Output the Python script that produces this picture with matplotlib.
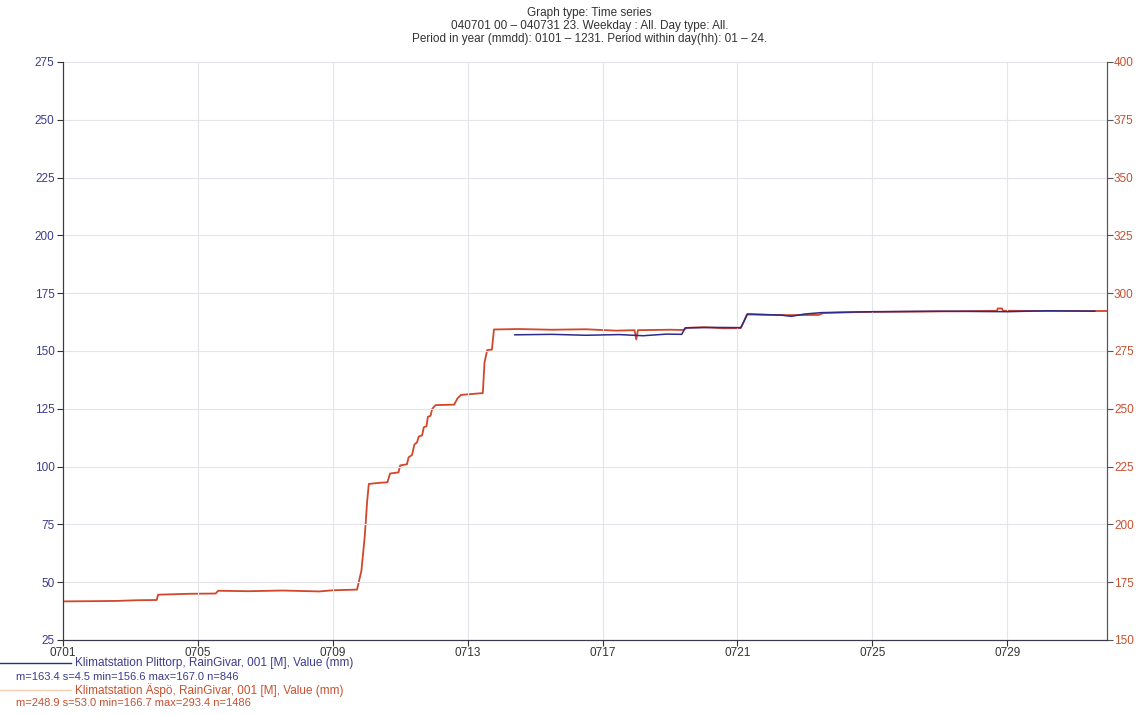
import matplotlib.pyplot as plt
from matplotlib.lines import Line2D

plt.rcParams['font.family'] = ['Liberation Sans', 'DejaVu Sans']

# time in days since 0701 00, values in mm
aspo_t = [0.0, 0.9, 1.6, 2.2, 2.78, 2.82, 3.8, 4.53, 4.6, 5.5, 6.5, 7.6, 8.0,
          8.72, 8.85, 8.95, 9.02, 9.07, 9.4, 9.62, 9.70, 9.95, 10.0, 10.2, 10.25,
          10.35, 10.42, 10.5, 10.55, 10.65, 10.7, 10.78, 10.82, 10.9, 10.95,
          11.05, 11.6, 11.7, 11.8, 12.45, 12.5, 12.58, 12.72, 12.78, 13.5, 14.5,
          15.5, 16.4, 16.95, 17.0, 17.05, 18.0, 18.4, 18.5, 19.0, 19.6, 20.1,
          20.2, 20.28, 21.5, 22.4, 22.55, 23.5, 25.0, 26.5, 27.7, 27.72, 27.85,
          27.87, 29.0, 30.96]
aspo_v = [166.7, 166.8, 166.9, 167.2, 167.3, 169.6, 170.0, 170.1, 171.3, 171.1,
          171.4, 171.0, 171.5, 171.8, 180.0, 195.0, 210.0, 217.5, 218.0, 218.2,
          222.0, 222.5, 225.5, 226.0, 229.0, 230.0, 234.5, 235.5, 238.0, 238.5,
          242.0, 242.5, 246.5, 247.0, 250.0, 251.6, 251.8, 254.5, 256.0, 256.8,
          270.0, 275.4, 275.6, 284.3, 284.5, 284.2, 284.4, 283.8, 284.0, 280.0,
          284.0, 284.2, 284.1, 285.0, 285.3, 284.8, 284.9, 288.0, 290.8, 290.5,
          290.6, 291.4, 291.8, 292.0, 292.2, 292.4, 293.4, 293.4, 292.4, 292.3,
          292.3]

plittorp_t = [13.4, 14.5, 15.5, 16.5, 17.2, 17.9, 18.35, 18.45, 19.3, 20.1, 20.2,
              20.3, 21.3, 21.6, 22.0, 22.5, 24.0, 26.0, 28.0, 29.2, 30.6]
plittorp_v = [157.0, 157.2, 156.8, 157.1, 156.6, 157.3, 157.2, 160.0, 160.2,
              160.1, 163.0, 166.0, 165.5, 165.0, 166.0, 166.6, 167.0, 167.2,
              167.0, 167.4, 167.2]

day_ticks = [0, 4, 8, 12, 16, 20, 24, 28]
day_labels = ['0701', '0705', '0709', '0713', '0717', '0721', '0725', '0729']
left_ticks = [25, 50, 75, 100, 125, 150, 175, 200, 225, 250, 275]
right_ticks = [150, 175, 200, 225, 250, 275, 300, 325, 350, 375, 400]

navy = '#2b2b8c'
orange = '#d2462a'
label_navy = '#3c3c8c'
label_orange = '#c8502e'

fig = plt.figure(figsize=(11.43, 7.15), dpi=100)
ax = fig.add_axes([0.0551, 0.1049, 0.9134, 0.8084])
ax2 = ax.twinx()

ax2.plot(aspo_t, aspo_v, color=orange, lw=1.3, zorder=2)
ax.plot(plittorp_t, plittorp_v, color=navy, lw=1.1, zorder=3)
ax.set_zorder(ax2.get_zorder() + 1)
ax.patch.set_visible(False)

ax.set_xlim(0, 30.96)
ax.set_ylim(25, 275)
ax2.set_ylim(150, 400)
ax.set_xticks(day_ticks)
ax.set_xticklabels(day_labels)
ax.set_yticks(left_ticks)
ax2.set_yticks(right_ticks)

ax2.grid(False)
ax.grid(True, color='#e4e4ea', lw=0.8)
ax.set_axisbelow(True)
for a in (ax, ax2):
    a.spines['top'].set_visible(False)
    a.spines['left'].set_color('#3a3a4a')
    a.spines['bottom'].set_color('#3a3a4a')
    a.spines['right'].set_color('#555555')
ax.tick_params(axis='x', length=4, color='#333333', labelsize=8.5,
               labelcolor='#333333', pad=1)
ax.tick_params(axis='y', length=4, color='#333333', labelsize=8.5,
               labelcolor=label_navy, pad=2)
ax2.tick_params(axis='y', length=4, color='#555555', labelsize=8.5,
                labelcolor=label_orange, pad=1)

title_lines = ['Graph type: Time series',
               '040701 00 \u2013 040731 23. Weekday : All. Day type: All.',
               'Period in year (mmdd): 0101 \u2013 1231. Period within day(hh): 01 \u2013 24.']
for i, line in enumerate(title_lines):
    fig.text(0.516, 1 - (13 + 12.8 * i) / 715, line, ha='center', va='center',
             fontsize=8.5, color='#333333')

# legend below the axes
fig.add_artist(Line2D([0.0, 0.062], [1 - 663 / 715] * 2, color=navy, lw=1.0))
fig.text(0.066, 1 - 663 / 715,
         'Klimatstation Plittorp, RainGivar, 001 [M], Value (mm)',
         ha='left', va='center', fontsize=8.5, color=label_navy)
fig.text(0.014, 1 - 677 / 715, 'm=163.4 s=4.5 min=156.6 max=167.0 n=846',
         ha='left', va='center', fontsize=8, color=label_navy)
fig.add_artist(Line2D([0.0, 0.062], [1 - 690 / 715] * 2, color='#f2cdb4', lw=1.0))
fig.text(0.066, 1 - 690 / 715,
         'Klimatstation \u00c4sp\u00f6, RainGivar, 001 [M], Value (mm)',
         ha='left', va='center', fontsize=8.5, color=label_orange)
fig.text(0.014, 1 - 703 / 715, 'm=248.9 s=53.0 min=166.7 max=293.4 n=1486',
         ha='left', va='center', fontsize=8, color=label_orange)

fig.savefig('out.png', dpi=100)
